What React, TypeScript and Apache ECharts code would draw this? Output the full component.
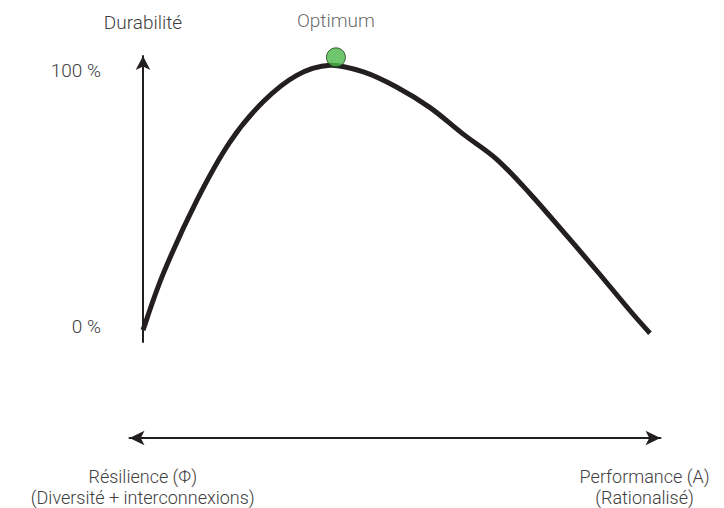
import React, { useEffect, useRef } from "react";
import * as echarts from "echarts";

// Curve: x = position between Résilience (0) and Performance (100), y = durabilité (%)
const curveX = [0, 4, 10.6, 17.1, 23.6, 30.2, 36.7, 43.3, 49.8, 56.4, 62.9, 69.5, 76.0, 82.6, 89.1, 95.7, 99.6];
const curveY = [0, 21.4, 49.1, 71.1, 86.2, 96.2, 100, 97.5, 91.8, 84.0, 74.0, 64.5, 51.6, 37.1, 22.5, 7.3, -1.2];

const optimumPoint = [37.9, 103];
const optimumLabel = "Optimum";

const yAxisName = "Durabilité";
const yTickValues = [0, 100];
const yTickLabels = ["{lo|0 %}", "{hi|100 %}"];

const xEndValues = [2.5, 97];
const xEndLabels = [
  "Résilience (Φ)\n(Diversité + interconnexions)",
  "Performance (A)\n(Rationalisé)",
];

const FONT = "Roboto";
const TEXT_COLOR = "#404040";
const LINE_COLOR = "#231f20";

function catmullRomPath(pts: number[][]): string {
  if (pts.length === 0) return "";
  let d = `M${pts[0][0]},${pts[0][1]}`;
  for (let i = 0; i < pts.length - 1; i++) {
    const p0 = pts[i - 1] || pts[i];
    const p1 = pts[i];
    const p2 = pts[i + 1];
    const p3 = pts[i + 2] || p2;
    const c1x = p1[0] + (p2[0] - p0[0]) / 6;
    const c1y = p1[1] + (p2[1] - p0[1]) / 6;
    const c2x = p2[0] - (p3[0] - p1[0]) / 6;
    const c2y = p2[1] - (p3[1] - p1[1]) / 6;
    d += ` C${c1x},${c1y} ${c2x},${c2y} ${p2[0]},${p2[1]}`;
  }
  return d;
}

export default function App() {
  const ref = useRef<HTMLDivElement>(null);

  useEffect(() => {
    if (!ref.current) return;
    const chart = echarts.init(ref.current, null, { renderer: "svg" });
    const option = {
      animation: false,
      backgroundColor: "#ffffff",
      grid: [
        { left: 143, right: 72, top: 56, bottom: 166, containLabel: false },
        { left: 129.5, right: 63.5, top: 400, bottom: 70, containLabel: false },
      ],
      xAxis: [
        { type: "value", gridIndex: 0, min: 0, max: 100, show: false },
        {
          type: "value",
          gridIndex: 1,
          min: 0,
          max: 100,
          axisLine: {
            show: true,
            symbol: ["arrow", "arrow"],
            symbolSize: [11, 15],
            lineStyle: { color: LINE_COLOR, width: 2 },
          },
          axisTick: { show: false },
          splitLine: { show: false },
          axisLabel: {
            show: true,
            customValues: xEndValues,
            margin: 28,
            formatter: (v: number) => {
              const i = xEndValues.indexOf(v);
              return i >= 0 ? xEndLabels[i] : "";
            },
            fontFamily: FONT,
            fontWeight: 300,
            fontSize: 18,
            lineHeight: 21,
            color: TEXT_COLOR,
            align: "center",
          },
        },
      ],
      yAxis: [
        {
          type: "value",
          gridIndex: 0,
          min: -4.5,
          max: 103.5,
          name: yAxisName,
          nameLocation: "end",
          nameGap: 24,
          nameTextStyle: { fontFamily: FONT, fontWeight: 300, fontSize: 19, color: TEXT_COLOR },
          axisLine: {
            show: true,
            symbol: ["none", "arrow"],
            symbolSize: [11, 14],
            lineStyle: { color: LINE_COLOR, width: 2 },
          },
          axisTick: { show: false },
          splitLine: { show: false },
          axisLabel: {
            show: true,
            customValues: yTickValues,
            margin: 42,
            formatter: (v: number) => {
              const i = yTickValues.indexOf(v);
              return i >= 0 ? yTickLabels[i] : "";
            },
            fontFamily: FONT,
            fontWeight: 300,
            fontSize: 19,
            color: TEXT_COLOR,
            rich: {
              hi: { fontFamily: FONT, fontWeight: 300, fontSize: 19, color: TEXT_COLOR, padding: [11, 0, 0, 0] },
              lo: { fontFamily: FONT, fontWeight: 300, fontSize: 19, color: TEXT_COLOR, padding: [0, 0, 8, 0] },
            },
          },
        },
        { type: "value", gridIndex: 1, show: false, min: 0, max: 1 },
      ],
      series: [
        {
          type: "custom",
          coordinateSystem: "cartesian2d",
          xAxisIndex: 0,
          yAxisIndex: 0,
          data: [[curveX[0], curveY[0]]],
          renderItem: (params: any, api: any) => {
            const pts = curveX.map((x, i) => api.coord([x, curveY[i]]));
            return {
              type: "path",
              shape: { pathData: catmullRomPath(pts) },
              style: { stroke: LINE_COLOR, lineWidth: 5, fill: "none", lineCap: "butt", lineJoin: "round" },
              z2: 2,
            };
          },
          silent: true,
          z: 2,
        },
        {
          type: "scatter",
          xAxisIndex: 0,
          yAxisIndex: 0,
          data: [optimumPoint],
          symbolSize: 19,
          itemStyle: { color: "#4cb848", borderColor: "#1f3d1c", borderWidth: 1 },
          label: {
            show: true,
            position: "top",
            distance: 17,
            formatter: optimumLabel,
            fontFamily: FONT,
            fontWeight: 300,
            fontSize: 19,
            color: TEXT_COLOR,
          },
          z: 3,
        },
      ],
    };
    chart.setOption(option as any);
    return () => chart.dispose();
  }, []);

  return <div ref={ref} style={{ width: 724, height: 508, position: "absolute", left: 0, top: 0 }} />;
}
